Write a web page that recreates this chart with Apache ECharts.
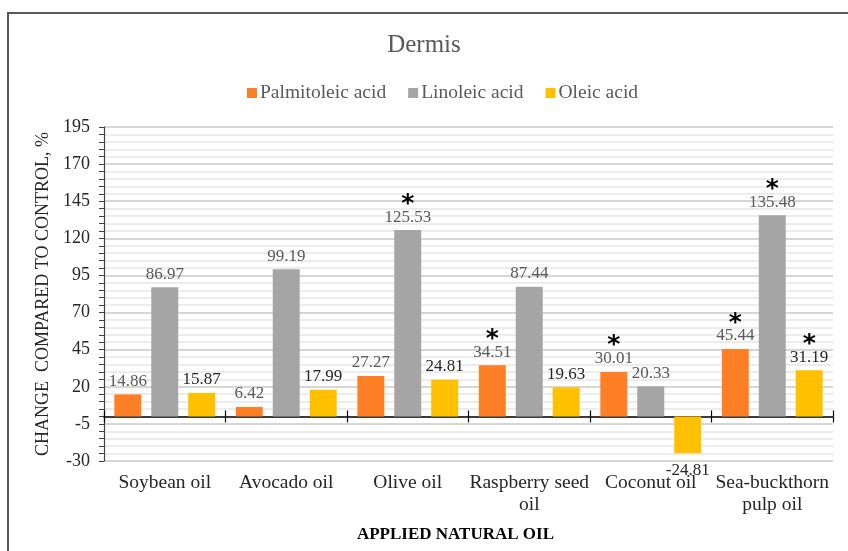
<!DOCTYPE html>
<html>
<head>
<meta charset="utf-8">
<script src="https://cdn.jsdelivr.net/npm/echarts@6/dist/echarts.min.js"></script>
<style>
  html, body { margin: 0; padding: 0; background: #fff; }
  #chart { width: 848px; height: 551px; }
</style>
</head>
<body>
<div id="chart"></div>
<script>
  var categories = ['Soybean oil', 'Avocado oil', 'Olive oil', 'Raspberry seed\noil', 'Coconut oil', 'Sea-buckthorn\npulp oil'];
  var palmitoleic = [14.86, 6.42, 27.27, 34.51, 30.01, 45.44];
  var linoleic = [86.97, 99.19, 125.53, 87.44, 20.33, 135.48];
  var oleic = [15.87, 17.99, 24.81, 19.63, -24.81, 31.19];
  // significance marks (*)
  var sigPalmitoleic = [0, 0, 0, 1, 1, 1];
  var sigLinoleic = [0, 0, 1, 0, 0, 1];
  var sigOleic = [0, 0, 0, 0, 0, 1];
  var yTicks = [-30, -5, 20, 45, 70, 95, 120, 145, 170, 195];

  var serif = "'Liberation Serif', 'Times New Roman', serif";
  var chart = echarts.init(document.getElementById('chart'));

  function makeSeries(name, values, sig, color, labelColor) {
    return {
      name: name,
      type: 'bar',
      xAxisIndex: 0,
      barGap: '37%',
      barCategoryGap: '17%',
      itemStyle: { color: color },
      data: values.map(function (v) {
        var item = { value: v };
        if (v < 0) item.label = { position: 'bottom', distance: 8 };
        return item;
      }),
      label: {
        show: true,
        position: 'top',
        distance: 4,
        formatter: function (p) {
          var txt = '{v|' + p.value.toFixed(2) + '}';
          return sig[p.dataIndex] ? '{s|*}\n' + txt : txt;
        },
        rich: {
          v: { fontFamily: serif, fontSize: 17, color: labelColor, lineHeight: 18 },
          s: { fontFamily: "'DejaVu Sans', sans-serif", fontSize: 25, fontWeight: 'bold', color: '#000', lineHeight: 14, padding: [0, 0, -6, 0] }
        }
      }
    };
  }

  var option = {
    backgroundColor: '#fff',
    animation: false,
    title: {
      text: 'Dermis',
      left: 'center',
      top: 28,
      textStyle: { fontFamily: serif, fontSize: 25, fontWeight: 'normal', color: '#595959' }
    },
    legend: {
      top: 78,
      left: 242,
      itemWidth: 10,
      itemHeight: 10,
      itemGap: 22,
      icon: 'rect',
      textStyle: { fontFamily: serif, fontSize: 19.5, color: '#595959', padding: [0, 0, 0, -2] },
      data: ['Palmitoleic acid', 'Linoleic acid', 'Oleic acid']
    },
    grid: { left: 104, right: 15, top: 127, bottom: 90 },
    xAxis: [
      {
        type: 'category',
        position: 'bottom',
        data: categories,
        axisLine: { show: false, onZero: false },
        axisTick: { show: false },
        axisLabel: { fontFamily: serif, fontSize: 19.5, color: '#262626', lineHeight: 22, margin: 11, interval: 0 },
        name: 'APPLIED NATURAL OIL',
        nameLocation: 'middle',
        nameGap: 65,
        nameTextStyle: { fontFamily: serif, fontSize: 17, fontWeight: 'bold', color: '#000', padding: [0, 26, 0, 0] }
      },
      {
        type: 'category',
        position: 'bottom',
        data: categories,
        axisLine: { onZero: true, onZeroAxisIndex: 0, lineStyle: { color: '#000', width: 1.5 } },
        axisTick: { show: true, length: 6, lineStyle: { color: '#000', width: 1.2 } },
        axisLabel: { show: false }
      },
      {
        type: 'category',
        position: 'bottom',
        data: categories,
        axisLine: { show: true, onZero: true, onZeroAxisIndex: 0, lineStyle: { opacity: 0 } },
        axisTick: { show: true, inside: true, length: 6, lineStyle: { color: '#000', width: 1.2, opacity: 1 } },
        axisLabel: { show: false }
      }
    ],
    yAxis: {
      type: 'value',
      min: -30,
      max: 195,
      interval: 5,
      name: 'CHANGE  COMPARED TO CONTROL, %',
      nameLocation: 'middle',
      nameGap: 49,
      nameTextStyle: { fontFamily: serif, fontSize: 18, color: '#262626' },
      axisLine: { show: true, lineStyle: { color: '#404040', width: 1.2 } },
      axisTick: { show: true, length: 5, lineStyle: { color: '#404040' } },
      axisLabel: { customValues: yTicks, fontFamily: serif, fontSize: 18, color: '#262626', margin: 14 },
      splitLine: {
        show: true,
        lineStyle: { color: ['#d6d6d6', '#ececec', '#ececec', '#ececec', '#ececec'], width: 2 }
      }
    },
    graphic: [{
      type: 'rect',
      shape: { x: 8, y: 13, width: 900, height: 600 },
      style: { fill: 'none', stroke: '#595959', lineWidth: 2 },
      silent: true
    }],
    series: [
      makeSeries('Palmitoleic acid', palmitoleic, sigPalmitoleic, '#FF7F27', '#595959'),
      makeSeries('Linoleic acid', linoleic, sigLinoleic, '#A5A5A5', '#595959'),
      makeSeries('Oleic acid', oleic, sigOleic, '#FFC000', '#262626')
    ]
  };
  chart.setOption(option);
</script>
</body>
</html>
